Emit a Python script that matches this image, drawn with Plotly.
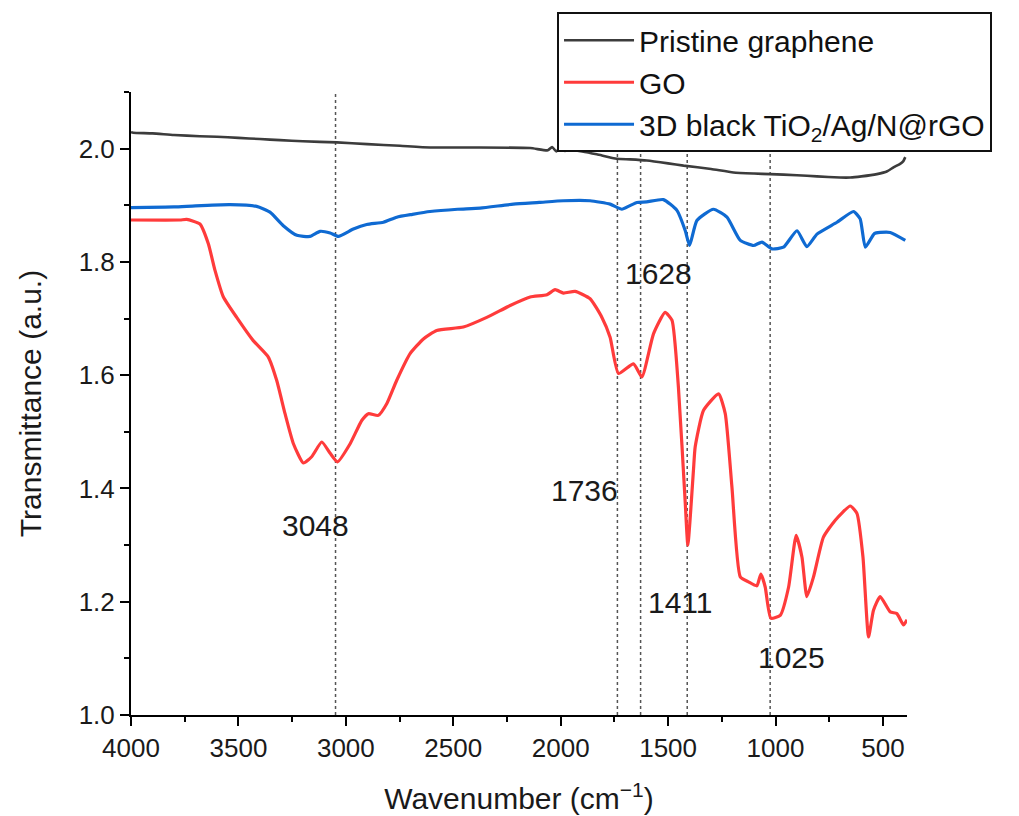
import plotly.graph_objects as go

# ---------------- data ----------------
pristine_x = [4000, 3990, 3900, 3800, 3680, 3600, 3500, 3400, 3306, 3200, 3042, 2900, 2748, 2608,
              2400, 2142, 2060, 2040, 2020, 2000, 1980, 1960, 1900, 1832, 1739, 1677, 1599, 1500,
              1428, 1300, 1196, 1100, 1025, 900, 807, 700, 652, 600, 528, 480, 451, 420, 405, 396]
pristine_y = [2.029, 2.028, 2.027, 2.024, 2.022, 2.021, 2.019, 2.017, 2.015, 2.013, 2.011, 2.008,
              2.005, 2.002, 2.002, 2.001, 1.997, 2.003, 1.995, 2.002, 1.996, 1.998, 1.995, 1.990,
              1.982, 1.981, 1.979, 1.974, 1.970, 1.964, 1.958, 1.956, 1.955, 1.953, 1.951, 1.949,
              1.949, 1.951, 1.955, 1.960, 1.967, 1.973, 1.978, 1.985]

go_x = [4000, 3772, 3741, 3679, 3640, 3609, 3570, 3508, 3431, 3361, 3322, 3283, 3244, 3198, 3159,
        3112, 3073, 3039, 2980, 2926, 2895, 2849, 2809, 2763, 2701, 2639, 2577, 2453, 2344, 2235,
        2142, 2064, 2026, 1987, 1933, 1863, 1808, 1770, 1731, 1661, 1622, 1568, 1514, 1482, 1452,
        1420, 1408, 1382, 1374, 1335, 1265, 1234, 1203, 1164, 1126, 1087, 1068, 1048, 1022, 978,
        939, 904, 877, 854, 823, 777, 722, 652, 621, 593, 567, 544, 513, 466, 435, 404, 388]
go_y = [1.874, 1.874, 1.875, 1.867, 1.832, 1.785, 1.738, 1.702, 1.661, 1.632, 1.591, 1.532, 1.479,
        1.445, 1.456, 1.482, 1.462, 1.447, 1.479, 1.520, 1.532, 1.529, 1.550, 1.591, 1.638, 1.664,
        1.679, 1.685, 1.702, 1.723, 1.738, 1.742, 1.751, 1.745, 1.748, 1.735, 1.702, 1.667, 1.603,
        1.620, 1.597, 1.673, 1.711, 1.697, 1.579, 1.373, 1.300, 1.432, 1.473, 1.538, 1.567, 1.532,
        1.403, 1.244, 1.235, 1.228, 1.249, 1.226, 1.171, 1.176, 1.226, 1.317, 1.279, 1.209, 1.244,
        1.314, 1.344, 1.369, 1.356, 1.279, 1.138, 1.185, 1.209, 1.182, 1.179, 1.159, 1.168]

tio2_x = [4000, 3800, 3700, 3539, 3415, 3353, 3291, 3228, 3167, 3120, 3073, 3035, 2965, 2903, 2825,
          2763, 2690, 2608, 2480, 2375, 2220, 2100, 1987, 1863, 1770, 1715, 1680, 1645, 1600, 1522,
          1459, 1420, 1400, 1366, 1289, 1226, 1164, 1102, 1063, 1017, 963, 900, 854, 807, 714, 637,
          606, 582, 540, 513, 466, 396]
tio2_y = [1.896, 1.897, 1.899, 1.901, 1.898, 1.888, 1.864, 1.847, 1.845, 1.854, 1.851, 1.845, 1.858,
          1.866, 1.870, 1.879, 1.884, 1.889, 1.893, 1.895, 1.902, 1.905, 1.908, 1.908, 1.902, 1.893,
          1.899, 1.905, 1.906, 1.910, 1.891, 1.855, 1.829, 1.873, 1.893, 1.879, 1.838, 1.829, 1.835,
          1.823, 1.826, 1.855, 1.827, 1.849, 1.870, 1.889, 1.876, 1.826, 1.850, 1.852, 1.852, 1.838]

peak_positions = [3048, 1736, 1628, 1411, 1025]
peak_labels = ["3048", "1736", "1628", "1411", "1025"]
label_x = [3139, 1891, 1546, 1444, 927]
label_y = [1.335, 1.397, 1.779, 1.198, 1.102]

series_names = ["Pristine graphene", "GO", "3D black TiO<sub>2</sub>/Ag/N@rGO"]
series_colors = ["#3c3c3c", "#ff3b3b", "#0f6ad2"]

FONT = "Arial, Liberation Sans, sans-serif"

fig = go.Figure()
for name, xs, ys, col, w in [
    (series_names[0], pristine_x, pristine_y, series_colors[0], 2.6),
    (series_names[1], go_x, go_y, series_colors[1], 3.2),
    (series_names[2], tio2_x, tio2_y, series_colors[2], 3.2),
]:
    fig.add_trace(go.Scatter(x=xs, y=ys, mode="lines", name=name,
                             line=dict(color=col, width=w, shape="spline", smoothing=0.5)))

for p in peak_positions:
    fig.add_shape(type="line", xref="x", yref="paper", x0=p, x1=p, y0=0, y1=1,
                  line=dict(color="#555555", width=1.5, dash="dot"), layer="below")

for lx, ly, t in zip(label_x, label_y, peak_labels):
    fig.add_annotation(x=lx, y=ly, text=t, showarrow=False,
                       font=dict(family=FONT, size=30, color="#1a1a1a"))

axis_common = dict(showline=True, linecolor="black", linewidth=2, ticks="outside",
                   ticklen=9, tickwidth=2, tickcolor="black", showgrid=False, zeroline=False,
                   tickfont=dict(family=FONT, size=26, color="#1a1a1a"), mirror=False,
                   automargin=False)

fig.update_layout(
    width=1019, height=816,
    margin=dict(l=131, r=112, t=92, b=101),
    paper_bgcolor="white", plot_bgcolor="white",
    font=dict(family=FONT, color="#1a1a1a"),
    xaxis=dict(range=[4000, 388], dtick=500, tick0=500,
               title=dict(text="Wavenumber (cm<sup>\u22121</sup>)", font=dict(family=FONT, size=30), standoff=26),
               minor=dict(ticks="outside", ticklen=5, tickwidth=2, tickcolor="black", dtick=250),
               **axis_common),
    yaxis=dict(range=[1.0, 2.1], dtick=0.2, tick0=1.0, tickformat=".1f",
               title=dict(text="Transmittance (a.u.)", font=dict(family=FONT, size=30), standoff=28),
               minor=dict(ticks="outside", ticklen=5, tickwidth=2, tickcolor="black", dtick=0.1),
               **axis_common),
    legend=dict(x=0.549, y=1.128, xanchor="left", yanchor="top",
                bgcolor="white", bordercolor="#111111", borderwidth=2,
                font=dict(family=FONT, size=30, color="#111111"),
                itemwidth=70, tracegroupgap=0),
    showlegend=True,
)

fig.write_html("out.html")
